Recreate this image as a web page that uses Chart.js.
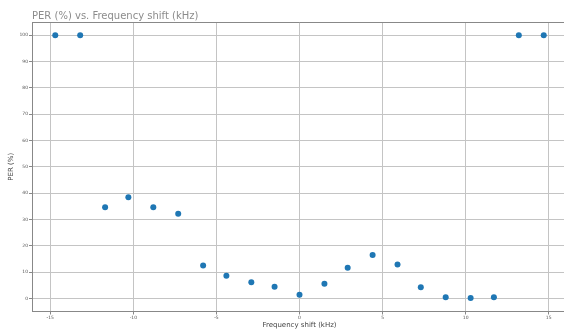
<!DOCTYPE html>
<html>
<head>
<meta charset="utf-8">
<script src="https://cdn.jsdelivr.net/npm/chart.js@4.4.1/dist/chart.umd.min.js"></script>
<style>
html, body { margin: 0; padding: 0; background: #fff; overflow: hidden; width: 564px; height: 329px; }
#wrap { position: absolute; left: 0; top: 0; width: 570px; height: 329px; }
</style>
</head>
<body>
<div id="wrap"><canvas id="perChart" width="570" height="329"></canvas></div>
<script>
// frequency shift (kHz) and packet error rate (%)
var freqShift = [-14.7, -13.2, -11.7, -10.3, -8.8, -7.3, -5.8, -4.4, -2.9, -1.5, 0,
                 1.5, 2.9, 4.4, 5.9, 7.3, 8.8, 10.3, 11.7, 13.2, 14.7];
var perValues = [100, 100, 34.6, 38.4, 34.6, 32.1, 12.5, 8.6, 6.1, 4.4, 1.4,
                 5.5, 11.6, 16.5, 12.9, 4.2, 0.4, 0.1, 0.4, 100, 100];
var xTicks = [-15, -10, -5, 0, 5, 10, 15];
var yTicks = [0, 10, 20, 30, 40, 50, 60, 70, 80, 90, 100];
var chartTitle = 'PER (%) vs. Frequency shift (kHz)';

var points = [];
for (var i = 0; i < freqShift.length; i++) {
    points.push({x: freqShift[i], y: perValues[i]});
}

// title + top spine, like the matplotlib figure
var frameTitle = {
    id: 'frameTitle',
    afterDraw: function(chart) {
        var c = chart.ctx, a = chart.chartArea;
        c.save();
        c.strokeStyle = '#888888';
        c.lineWidth = 1;
        c.beginPath();
        c.moveTo(a.left, Math.round(a.top) + 0.5);
        c.lineTo(a.right, Math.round(a.top) + 0.5);
        c.stroke();
        c.fillStyle = '#8c8c8c';
        c.font = '10px "DejaVu Sans"';
        c.textBaseline = 'alphabetic';
        c.fillText(chartTitle, a.left, 19);
        c.restore();
    }
};

const ctx = document.getElementById('perChart').getContext('2d');
const perChart = new Chart(ctx, {
    type: 'scatter',
    data: {
        datasets: [{
            label: 'PER',
            data: points,
            backgroundColor: '#1f77b4',
            borderWidth: 0,
            pointRadius: 3,
            pointHoverRadius: 3
        }]
    },
    options: {
        responsive: false,
        animation: false,
        layout: { padding: { top: 22, left: 0, right: 0, bottom: 0 } },
        plugins: {
            legend: { display: false },
            tooltip: { enabled: false }
        },
        scales: {
            x: {
                type: 'linear',
                min: -16.1,
                max: 16.1,
                afterBuildTicks: function(scale) {
                    scale.ticks = xTicks.map(function(v) { return {value: v}; });
                },
                afterFit: function(scale) { scale.height = 17.5; },
                ticks: {
                    font: { family: 'DejaVu Sans', size: 4.5 },
                    color: '#555',
                    padding: 1,
                    maxRotation: 0
                },
                grid: { color: '#c4c4c4', lineWidth: 1, tickLength: 3, tickColor: '#888' },
                border: { color: '#888888', width: 1 },
                title: {
                    display: true,
                    text: 'Frequency shift (kHz)',
                    font: { family: 'DejaVu Sans', size: 7 },
                    color: '#444',
                    padding: 0
                }
            },
            y: {
                min: -5,
                max: 105,
                afterBuildTicks: function(scale) {
                    scale.ticks = yTicks.map(function(v) { return {value: v}; });
                },
                afterFit: function(scale) { scale.width = 32; },
                ticks: {
                    font: { family: 'DejaVu Sans', size: 4.5 },
                    color: '#555',
                    padding: 1
                },
                grid: { color: '#c4c4c4', lineWidth: 1, tickLength: 3, tickColor: '#888' },
                border: { color: '#888888', width: 1 },
                title: {
                    display: true,
                    text: 'PER (%)',
                    font: { family: 'DejaVu Sans', size: 7 },
                    color: '#444',
                    padding: { top: 7, bottom: 0 }
                }
            }
        }
    },
    plugins: [frameTitle]
});
</script>
</body>
</html>
